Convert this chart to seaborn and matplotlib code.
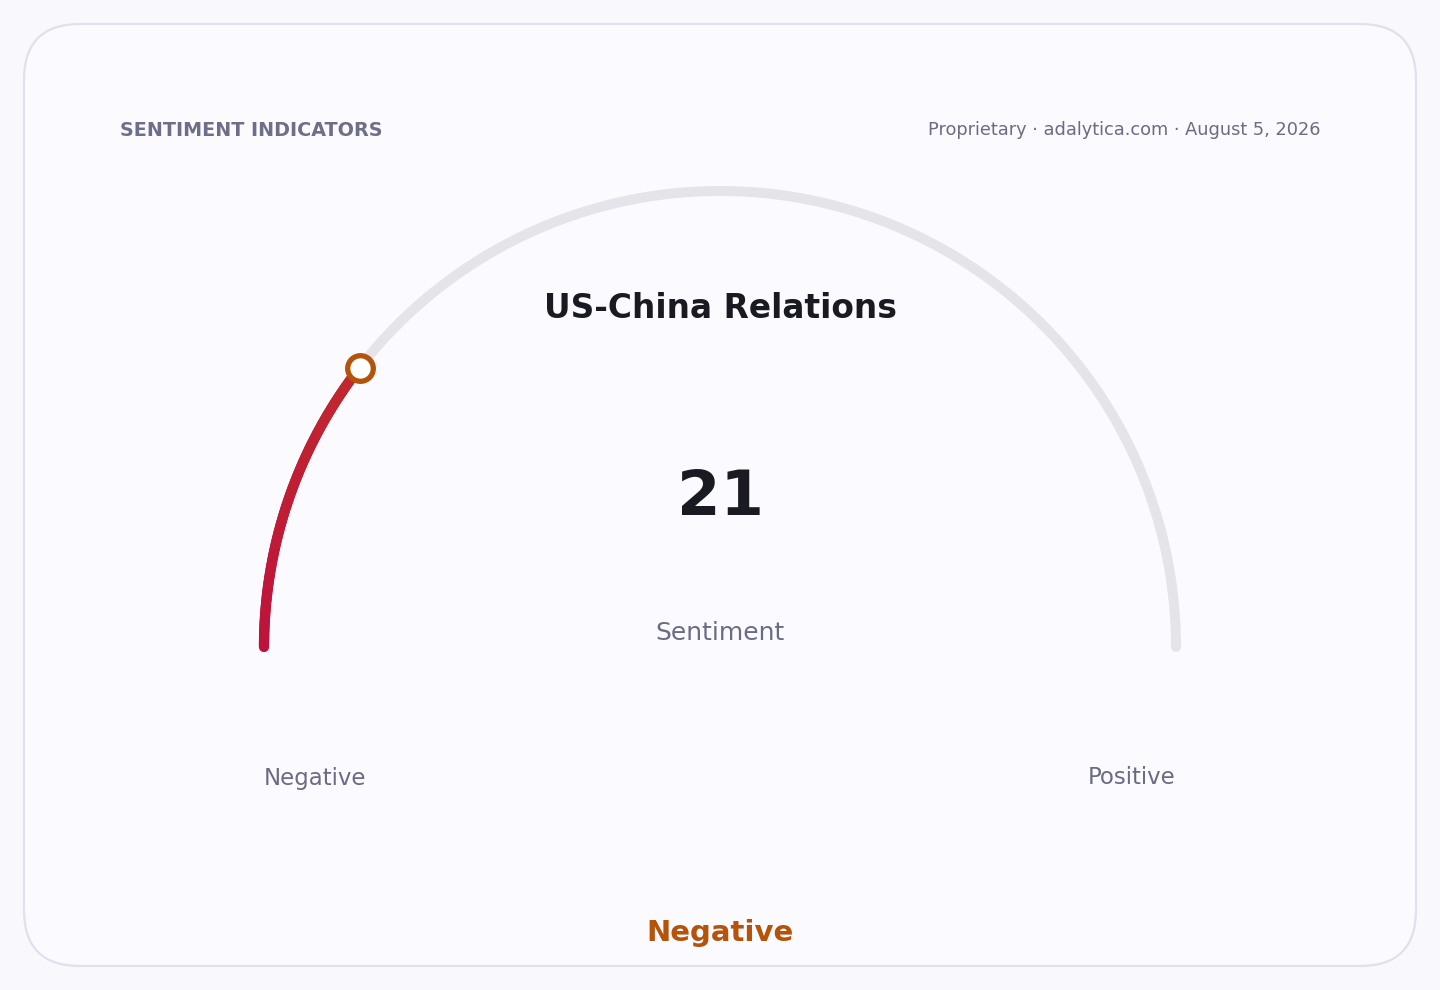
import matplotlib
matplotlib.use('Agg')
import matplotlib.pyplot as plt
import numpy as np
import pandas as pd
import seaborn as sns
from matplotlib.patches import FancyBboxPatch
from matplotlib.collections import LineCollection

# gauge data
title = "US-China Relations"
value = 21
vmin, vmax = 0, 100
metric = "Sentiment"
verdict = "Negative"
end_labels = ["Negative", "Positive"]
header = "SENTIMENT INDICATORS"
meta = "Proprietary · adalytica.com · August 5, 2026"

sns.set_theme(style="white")
plt.rcParams['font.family'] = ['DejaVu Sans']

W, H = 1440, 990
fig = plt.figure(figsize=(W / 100, H / 100), dpi=100, facecolor="#f8f8fd")
ax = fig.add_axes([0, 0, 1, 1])
ax.set_xlim(0, W)
ax.set_ylim(H, 0)
ax.axis("off")

# card
card = FancyBboxPatch((24, 24), 1392, 942, boxstyle="round,pad=0,rounding_size=56",
                      facecolor="#fafaff", edgecolor="#e1e1ee", linewidth=1.6)
ax.add_patch(card)

cx, cy, r = 720, 647, 456

def to_xy(v):
    a = np.pi * (1 - (v - vmin) / (vmax - vmin))
    return cx + r * np.cos(a), cy - r * np.sin(a)

# track
track = pd.DataFrame({"v": np.linspace(vmin, vmax, 300)})
track["x"], track["y"] = to_xy(track["v"])
sns.lineplot(data=track, x="x", y="y", sort=False, ax=ax, color="#e4e4ea",
             linewidth=7.2, solid_capstyle="round", estimator=None)

# value arc with gradient
vals = np.linspace(vmin, value, 120)
xs, ys = to_xy(vals)
pts = np.column_stack([xs, ys]).reshape(-1, 1, 2)
segs = np.concatenate([pts[:-1], pts[1:]], axis=1)
c0 = np.array(matplotlib.colors.to_rgb("#be123c"))
c1 = np.array(matplotlib.colors.to_rgb("#c0282e"))
t = np.linspace(0, 1, len(segs))[:, None]
lc = LineCollection(segs, colors=c0 * (1 - t) + c1 * t, linewidths=7.4, capstyle="round")
ax.add_collection(lc)

mx, my = to_xy(value)
sns.scatterplot(x=[mx], y=[my], ax=ax, s=340, color="white", edgecolor="#b45309",
                linewidth=3.8, zorder=5)

# texts
muted = "#6b6b85"
ax.text(120, 130, header, fontsize=13.8, fontweight="bold", color="#6e6e8a", va="center", ha="left")
ax.text(1320, 130, meta, fontsize=12.8, color=muted, va="center", ha="right")
ax.text(720, 309, title, fontsize=23.7, fontweight="bold", color="#1a1a22", ha="center", va="center")
ax.text(720, 498, f"{value}", fontsize=45, fontweight="bold", color="#1a1a22", ha="center", va="center")
ax.text(720, 633, metric, fontsize=18, color=muted, ha="center", va="center")
ax.text(264, 778, end_labels[0], fontsize=16.5, color=muted, ha="left", va="center")
ax.text(1176, 778, end_labels[1], fontsize=16.5, color=muted, ha="right", va="center")
ax.text(720, 933, verdict, fontsize=21, fontweight="bold", color="#b45309", ha="center", va="center")

fig.savefig("out.png", dpi=100, facecolor=fig.get_facecolor())
